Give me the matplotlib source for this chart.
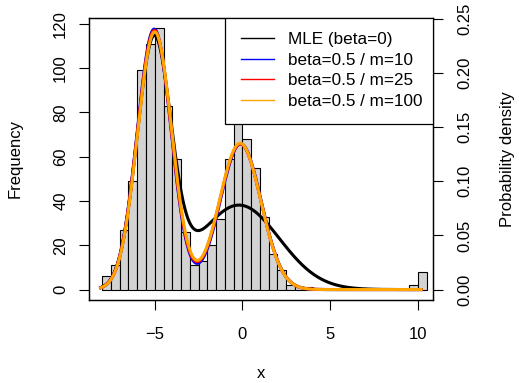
import numpy as np
import matplotlib.pyplot as plt
from matplotlib.patches import Rectangle

plt.rcParams['font.family'] = ['Liberation Sans', 'DejaVu Sans']
plt.rcParams['font.size'] = 12

# histogram: bin edges and counts (n = 1000)
bin_edges = np.arange(-8.0, 10.51, 0.5)
counts = [6, 11, 27, 49, 99, 111, 118, 83, 59, 26, 11, 13, 20, 32, 59, 82,
          68, 55, 33, 16, 9, 2, 1, 1, 0, 0, 0, 0, 0, 0, 0, 0, 0, 0, 0, 2, 8]

# fitted two-component normal mixtures (weights, means, sds)
labels = ["MLE (beta=0)", "beta=0.5 / m=10", "beta=0.5 / m=25", "beta=0.5 / m=100"]
colors = ["black", "blue", "red", "orange"]
weights = [[0.55, 0.45], [0.585, 0.395], [0.585, 0.398], [0.585, 0.40]]
means = [[-5.05, -0.2], [-5.03, -0.10], [-5.02, -0.12], [-5.0, -0.13]]
sds = [[0.97, 2.3], [0.97, 1.17], [0.975, 1.18], [0.98, 1.18]]
x_range = (-8.08, 10.19)


def mix_density(x, w, mu, sd):
    out = np.zeros_like(x)
    for wi, mi, si in zip(w, mu, sd):
        out += wi * np.exp(-0.5 * ((x - mi) / si) ** 2) / (si * np.sqrt(2 * np.pi))
    return out


fig = plt.figure(figsize=(5.19, 3.83), dpi=100)
ax = fig.add_axes([89 / 519, 1 - 299.5 / 383, 344 / 519, 281.5 / 383])

ax.bar(bin_edges[:-1], counts, width=np.diff(bin_edges), align='edge',
       color='lightgray', edgecolor='black', linewidth=0.8)
ax.set_xlim(-8.75, 10.87)
ax.set_ylim(-4.5, 122.7)
ax.set_xticks([-5, 0, 5, 10])
ax.set_yticks(np.arange(0, 121, 20))
ax.set_xlabel("x", labelpad=17)
ax.set_ylabel("Frequency", labelpad=22)
ax.tick_params(direction='out', length=7, width=0.8)
ax.tick_params(axis='x', pad=13)
ax.tick_params(axis='y', pad=8)
plt.setp(ax.get_yticklabels(), rotation=90, va='center')

ax2 = ax.twinx()
ax2.set_ylim(-4.5 / 489, 122.7 / 489)
ax2.set_yticks(np.arange(0, 0.26, 0.05))
ax2.set_yticklabels([f"{v:.2f}" for v in np.arange(0, 0.26, 0.05)], rotation=90, va='center')
ax2.set_ylabel("Probability density", labelpad=20)
ax2.tick_params(direction='out', length=7, width=0.8, pad=10.5)

xs = np.linspace(x_range[0], x_range[1], 600)
for lab, col, w, mu, sd in zip(labels, colors, weights, means, sds):
    ax2.plot(xs, mix_density(xs, w, mu, sd), color=col, lw=2.2, label=lab)

for a in (ax, ax2):
    for s in a.spines.values():
        s.set_linewidth(0.9)

# legend box flush with the top-right corner of the plot
ax2.add_patch(Rectangle((0.395, 0.6234), 0.605, 0.3766, transform=ax2.transAxes,
                        facecolor='white', edgecolor='black', linewidth=0.9, zorder=4))
leg = ax2.legend(loc='upper left', bbox_to_anchor=(0.442, 0.95), borderaxespad=0,
                 borderpad=0, frameon=False, fontsize=12.3,
                 handlelength=1.9, handletextpad=0.85, labelspacing=0.33)
leg.set_zorder(5)
for h in leg.get_lines():
    h.set_linewidth(1.0)

fig.savefig("out.png", dpi=100)
